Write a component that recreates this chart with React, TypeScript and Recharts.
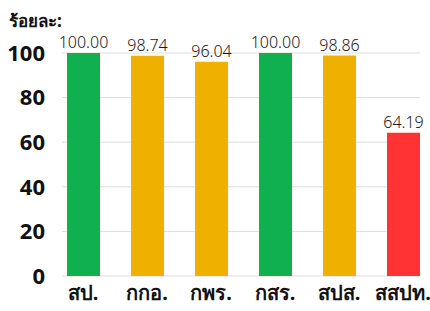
import { Bar, BarChart, CartesianGrid, Cell, LabelList, XAxis, YAxis } from "recharts";

const CATEGORIES = ["สป.", "กกอ.", "กพร.", "กสร.", "สปส.", "สสปท."];
const VALUES = [100.0, 98.74, 96.04, 100.0, 98.86, 64.19];
const BAR_COLORS = ["#10b050", "#f0b000", "#f0b000", "#10b050", "#f0b000", "#ff3333"];
const Y_TICKS = [0, 20, 40, 60, 80, 100];

const FONT = "'Noto Sans', 'DejaVu Sans', sans-serif";

const data = CATEGORIES.map((name, i) => ({ name, value: VALUES[i] }));

export default function App() {
  return (
    <div style={{ position: "absolute", left: 0, top: 0, width: 430, height: 311, background: "#fff", fontFamily: FONT }}>
      <div style={{ position: "absolute", left: 9, top: 7, fontSize: 17, fontWeight: 700, color: "#111" }}>ร้อยละ:</div>
      <BarChart width={430} height={311} data={data} margin={{ top: 53, right: 10, bottom: 0, left: 0 }}>
        <CartesianGrid stroke="#dddddd" vertical={false} />
        <XAxis
          dataKey="name"
          axisLine={false}
          tickLine={false}
          tickSize={0}
          tickMargin={10}
          height={35}
          padding={{ left: -11, right: -15 }}
          tick={{ fontSize: 20, fontWeight: 700, fill: "#111", fontFamily: FONT }}
          interval={0}
        />
        <YAxis
          domain={[0, 100]}
          ticks={Y_TICKS}
          axisLine={false}
          tickLine={false}
          tickSize={0}
          tickMargin={17}
          width={62}
          tick={{ fontSize: 22, fontWeight: 700, fill: "#111", fontFamily: FONT }}
        />
        <Bar dataKey="value" barSize={33} isAnimationActive={false}>
          {data.map((d, i) => (
            <Cell key={d.name} fill={BAR_COLORS[i]} />
          ))}
          <LabelList
            dataKey="value"
            position="top"
            offset={5}
            formatter={(v: number) => v.toFixed(2)}
            style={{ fontSize: 16, fill: "#1a1a1a", fontWeight: 300, fontFamily: FONT }}
          />
        </Bar>
      </BarChart>
    </div>
  );
}
